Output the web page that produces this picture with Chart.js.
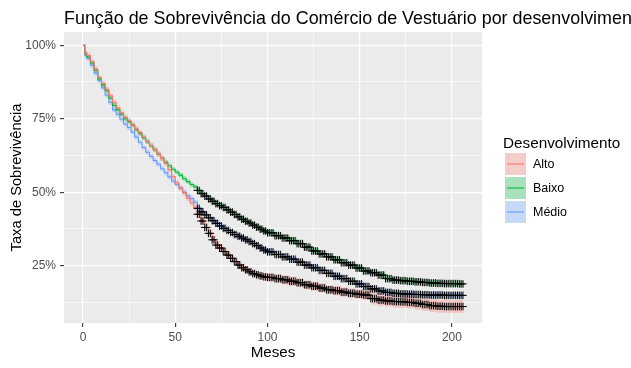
<!DOCTYPE html>
<html>
<head>
<meta charset="utf-8">
<script src="https://cdn.jsdelivr.net/npm/chart.js@4.4.1/dist/chart.umd.min.js"></script>
<style>
  html, body { margin: 0; padding: 0; background: #FFFFFF; }
  #wrap { position: relative; width: 631px; height: 368px; }
</style>
</head>
<body>
<div id="wrap"><canvas id="c" width="631" height="368"></canvas></div>
<script>
// ---- data (months, survival %) ----
const months = [0,1,2,4,6,8,10,12,14,16,18,20,22,24,26,28,30,32,34,36,38,40,42,44,46,48,50,52,54,56,58,60,
  62,64,66,68,70,72,74,76,78,80,82,84,86,88,90,92,94,96,98,100,
  104,108,112,116,120,124,128,132,136,140,144,148,152,156,160,164,168,172,176,180,184,188,192,196,200,204,206];

const alto = [100,97.5,96.5,94.3,91.8,89.0,87.0,85.0,82.8,80.5,78.6,77.0,75.5,74.3,73.0,71.5,70.2,68.8,67.3,65.9,64.5,63.0,61.5,59.8,57.6,55.3,53.2,51.5,49.8,48.0,46.3,44.8,
  42.5,40.2,38.0,36.0,33.8,32.0,31.0,29.8,28.6,27.5,26.4,25.2,24.3,23.6,22.9,22.3,21.9,21.5,21.2,21.0,
  20.6,20.2,19.7,19.2,18.5,18.0,17.4,16.8,16.5,16.0,15.6,15.3,15.0,13.8,13.3,13.0,12.8,12.7,12.5,12.2,11.8,11.4,11.2,11.1,11.1,11.1,11.1];

const baixo = [100,97.0,96.0,94.0,91.5,88.5,86.5,84.5,82.0,79.5,78.0,76.5,75.0,74.0,72.8,71.3,70.0,68.5,67.2,65.8,64.5,63.0,61.5,60.2,59.0,57.8,56.8,55.8,54.6,53.6,52.6,51.8,
  50.6,49.5,48.7,47.7,46.9,46.1,45.4,44.8,44.0,43.2,42.4,41.6,40.8,40.1,39.5,38.8,38.1,37.4,36.8,36.2,
  35.2,34.4,33.5,32.5,31.3,30.0,29.0,28.0,27.0,26.0,25.2,24.2,23.2,22.6,21.8,20.6,20.1,19.9,19.7,19.5,19.3,19.1,19.0,18.9,18.9,18.8,18.8];

const medio = [100,96.5,95.5,93.2,90.5,88.0,85.5,83.0,80.5,78.0,76.5,74.8,73.2,72.0,70.5,68.8,67.0,65.2,63.6,62.2,60.8,59.5,58.0,56.6,55.2,53.8,52.6,51.3,50.0,48.9,47.8,46.6,
  44.5,43.3,42.3,41.3,40.3,39.4,38.5,37.7,37.0,36.3,35.6,35.0,34.4,33.8,33.2,32.5,31.8,31.0,30.3,29.7,
  28.8,28.0,27.2,26.2,25.2,24.3,23.4,22.4,21.4,20.6,19.7,18.8,17.9,17.1,16.4,15.9,15.6,15.4,15.3,15.2,15.1,15.0,15.0,14.9,14.9,14.9,14.9];

// half-width of the confidence band (percentage points)
const altoBand = [0,0.9,0.9,0.9,0.9,0.9,0.9,0.9,0.9,0.9,0.9,0.9,0.9,0.9,0.9,0.9,0.9,0.9,0.9,0.9,0.9,0.9,0.9,0.9,0.9,0.9,0.9,0.9,0.9,0.9,0.9,0.9,
  1.3,1.3,1.3,1.3,1.3,1.3,1.3,1.3,1.3,1.3,1.3,1.3,1.3,1.3,1.3,1.3,1.3,1.3,1.3,1.3,
  1.5,1.5,1.5,1.5,1.5,1.5,1.5,1.5,1.6,1.6,1.6,1.6,1.6,2.0,2.0,2.0,2.1,2.1,2.1,2.2,2.2,2.2,2.2,2.2,2.2,2.2,2.2];
const baixoBand = [0,0.8,0.8,0.8,0.8,0.8,0.8,0.8,0.8,0.8,0.8,0.8,0.8,0.8,0.8,0.8,0.8,0.8,0.8,0.8,0.8,0.8,0.8,0.8,0.8,0.8,0.8,0.8,0.8,0.8,0.8,0.8,
  0.9,0.9,0.9,0.9,0.9,0.9,0.9,0.9,0.9,0.9,0.9,0.9,0.9,0.9,0.9,0.9,0.9,0.9,0.9,0.9,
  1.0,1.0,1.0,1.0,1.0,1.0,1.0,1.0,1.0,1.0,1.0,1.0,1.0,1.0,1.1,1.1,1.1,1.1,1.1,1.1,1.1,1.1,1.1,1.1,1.1,1.1,1.1];
const medioBand = [0,0.8,0.8,0.8,0.8,0.8,0.8,0.8,0.8,0.8,0.8,0.8,0.8,0.8,0.8,0.8,0.8,0.8,0.8,0.8,0.8,0.8,0.8,0.8,0.8,0.8,0.8,0.8,0.8,0.8,0.8,0.8,
  0.9,0.9,0.9,0.9,0.9,0.9,0.9,0.9,0.9,0.9,0.9,0.9,0.9,0.9,0.9,0.9,0.9,0.9,0.9,0.9,
  1.0,1.0,1.0,1.0,1.0,1.0,1.0,1.0,1.0,1.0,1.0,1.0,1.0,1.0,1.1,1.1,1.1,1.1,1.1,1.1,1.1,1.1,1.1,1.1,1.1,1.1,1.1];

// months at which censoring marks ("+") appear (they are dense from ~62 months on)
const censorMonths = [62,63,64,65,66,67,68,69,70,71,72,73,74,75,76,77,78,79,80,81,82,83,84,85,86,87,88,89,90,91,
  92,93,94,95,96,97,98,99,100,101,102,103,104,105,106,107,108,109,110,111,112,113,114,115,116,117,118,119,120,121,
  122,123,124,125,126,127,128,129,130,131,132,133,134,135,136,137,138,139,140,141,142,143,144,145,146,147,148,149,150,151,
  152,153,154,155,156,157,158,159,160,161,162,163,164,165,166,167,168,169,170,171,172,173,174,175,176,177,178,179,180,181,
  182,183,184,185,186,187,188,189,190,191,192,193,194,195,196,197,198,199,200,201,202,203,204,205,206];

const groupNames = ['Alto', 'Baixo', 'Médio'];
const xTickValues = [0, 25, 50, 75, 100, 125, 150, 175, 200];
const yTickValues = [12.5, 25, 37.5, 50, 62.5, 75, 87.5, 100];

const colors = ['#F8766D', '#00BA38', '#619CFF'];
const bandColors = ['rgba(248,118,109,0.3)', 'rgba(0,186,56,0.3)', 'rgba(97,156,255,0.3)'];
const FONT = "'Liberation Sans', Arial, sans-serif";

const series = [alto, baixo, medio];
const bands = [altoBand, baixoBand, medioBand];

// value of a step (Kaplan-Meier) curve at month t
function stepValue(s, t) {
  let v = s[0];
  for (let i = 0; i < months.length; i++) { if (months[i] <= t) v = s[i]; else break; }
  return v;
}

const datasets = [];
// censoring marks (top)
series.forEach((s) => {
  datasets.push({
    data: censorMonths.map(t => ({x: t, y: stepValue(s, t)})),
    showLine: false, pointStyle: 'cross', pointRadius: 3.8, pointBorderColor: '#000000',
    pointBorderWidth: 1, pointBackgroundColor: '#000000', borderColor: '#000000'
  });
});
// survival curves
series.forEach((s, k) => {
  datasets.push({
    data: months.map((m, i) => ({x: m, y: s[i]})), stepped: true, borderColor: colors[k], borderWidth: 1.1,
    pointRadius: 0, fill: false
  });
});
// confidence bands
series.forEach((s, k) => {
  const b = bands[k];
  datasets.push({
    data: months.map((m, i) => ({x: m, y: Math.min(100, s[i] + b[i])})),
    stepped: true, borderWidth: 0, borderColor: 'rgba(0,0,0,0)', pointRadius: 0,
    backgroundColor: bandColors[k], fill: '+1'
  });
  datasets.push({
    data: months.map((m, i) => ({x: m, y: s[i] - b[i]})),
    stepped: true, borderWidth: 0, borderColor: 'rgba(0,0,0,0)', pointRadius: 0, fill: false
  });
});

const panelBg = {
  id: 'panelBg',
  beforeDraw(chart) {
    const {ctx, chartArea: a} = chart;
    ctx.save();
    ctx.fillStyle = '#EBEBEB';
    ctx.fillRect(a.left, a.top, a.right - a.left, a.bottom - a.top);
    ctx.restore();
  }
};

const decor = {
  id: 'decor',
  afterDraw(chart) {
    const {ctx} = chart;
    ctx.save();
    // title
    ctx.fillStyle = '#000000';
    ctx.font = '17.9px ' + FONT;
    ctx.textAlign = 'left';
    ctx.textBaseline = 'alphabetic';
    ctx.fillText('Função de Sobrevivência do Comércio de Vestuário por desenvolvimento', 64, 24);
    // legend
    ctx.font = '15.3px ' + FONT;
    ctx.fillText('Desenvolvimento', 503, 147.5);
    const kx = 505, kw = 21, kh = 22;
    groupNames.forEach((name, i) => {
      const ky = 153 + i * 24;
      ctx.fillStyle = '#F2F2F2';
      ctx.fillRect(kx, ky, kw, kh);
      ctx.fillStyle = bandColors[i];
      ctx.fillRect(kx, ky, kw, kh);
      ctx.strokeStyle = colors[i];
      ctx.lineWidth = 1.1;
      ctx.beginPath();
      ctx.moveTo(kx + 2, ky + kh / 2);
      ctx.lineTo(kx + kw - 2, ky + kh / 2);
      ctx.stroke();
      ctx.fillStyle = '#000000';
      ctx.font = '12.5px ' + FONT;
      ctx.textBaseline = 'middle';
      ctx.fillText(name, 533, ky + kh / 2 + 0.5);
      ctx.textBaseline = 'alphabetic';
    });
    ctx.restore();
  }
};

const gridWidth = (major) => (c) => (c.tick && c.tick.value % major === 0) ? 1.2 : 0.6;
const tickCol = (major) => (c) => (c.tick && c.tick.value % major === 0) ? '#333333' : 'rgba(0,0,0,0)';

new Chart(document.getElementById('c'), {
  type: 'line',
  data: {datasets},
  plugins: [panelBg, decor],
  options: {
    responsive: false,
    animation: false,
    events: [],
    layout: {padding: {top: 32, right: 149, bottom: 0, left: 0}},
    plugins: {legend: {display: false}, tooltip: {enabled: false}, title: {display: false}},
    scales: {
      x: {
        type: 'linear', min: -10.3, max: 216.3,
        afterBuildTicks: (s) => { s.ticks = xTickValues.map(v => ({value: v})); },
        afterFit: (s) => { s.height = 45; },
        ticks: {
          autoSkip: false, maxRotation: 0, padding: 3, color: '#4D4D4D',
          font: {family: FONT, size: 12},
          callback: (v) => (v % 50 === 0 ? String(v) : '')
        },
        grid: {color: '#FFFFFF', lineWidth: gridWidth(50), tickColor: tickCol(50), tickLength: 4, tickWidth: 1.1},
        border: {display: false},
        title: {display: true, text: 'Meses', color: '#000000', font: {family: FONT, size: 15.2}, padding: {top: 0, bottom: 6}}
      },
      y: {
        type: 'linear', min: 5.5, max: 104.5,
        afterBuildTicks: (s) => { s.ticks = yTickValues.map(v => ({value: v})); },
        afterFit: (s) => { s.width = 64; },
        ticks: {
          autoSkip: false, padding: 4, color: '#4D4D4D',
          font: {family: FONT, size: 12},
          callback: (v) => (v % 25 === 0 ? v + '%' : '')
        },
        grid: {color: '#FFFFFF', lineWidth: gridWidth(25), tickColor: tickCol(25), tickLength: 4, tickWidth: 1.1},
        border: {display: false},
        title: {display: true, text: 'Taxa de Sobrevivência', color: '#000000', font: {family: FONT, size: 14.7}, padding: {top: 8.5, bottom: 0}}
      }
    }
  }
});
</script>
</body>
</html>
